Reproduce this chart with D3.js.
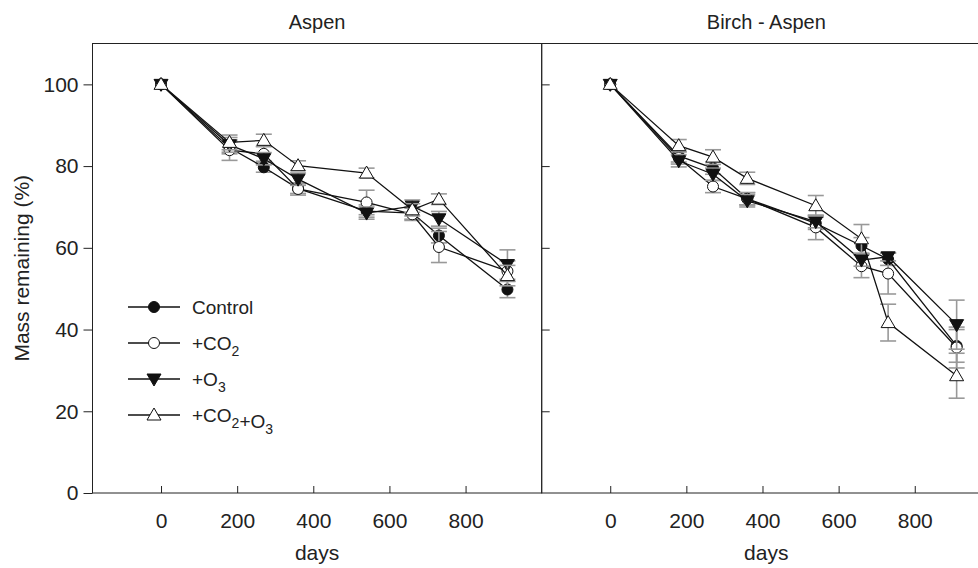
<!DOCTYPE html>
<html>
<head>
<meta charset="utf-8">
<script src="https://cdn.jsdelivr.net/npm/d3@7"></script>
<style>
  body { margin: 0; background: #fff; }
  text { font-family: "Liberation Sans", Arial, sans-serif; fill: #222; }
</style>
</head>
<body>
<div id="chart"></div>
<script>
// days of each harvest
var days = [0, 180, 270, 360, 540, 660, 730, 910];

// Aspen panel
var aspenControl = [100, 84.5, 79.7, 74.5, 69.0, 68.5, 63.0, 49.8];
var aspenCO2     = [100, 83.9, 83.0, 74.4, 71.1, 68.2, 60.2, 54.3];
var aspenO3      = [100, 85.2, 81.8, 76.8, 68.5, 70.2, 67.1, 55.9];
var aspenCO2O3   = [100, 85.8, 86.3, 80.1, 78.3, 69.3, 71.9, 53.2];
var aspenControlErr = [0, 1.5, 1.2, 1.2, 1.5, 1.5, 1.8, 2.0];
var aspenCO2Err     = [0, 2.5, 1.8, 1.5, 3.0, 1.5, 3.8, 2.5];
var aspenO3Err      = [0, 1.8, 1.5, 1.5, 1.5, 1.5, 1.8, 3.6];
var aspenCO2O3Err   = [0, 1.8, 1.5, 1.2, 1.2, 1.5, 1.3, 2.5];

// Birch - Aspen panel
var birchControl = [100, 82.5, 79.5, 72.0, 66.0, 60.5, 57.2, 36.0];
var birchCO2     = [100, 82.0, 75.0, 72.0, 65.0, 55.5, 53.7, 35.6];
var birchO3      = [100, 81.3, 78.0, 71.5, 66.4, 57.0, 57.8, 41.2];
var birchCO2O3   = [100, 85.0, 82.2, 77.0, 70.3, 62.2, 41.7, 28.7];
var birchControlErr = [0, 1.5, 1.5, 1.5, 1.5, 2.0, 1.5, 4.0];
var birchCO2Err     = [0, 1.5, 1.5, 1.5, 3.0, 2.8, 5.0, 5.0];
var birchO3Err      = [0, 1.5, 1.5, 1.5, 1.5, 1.5, 1.0, 6.0];
var birchCO2O3Err   = [0, 1.5, 1.8, 1.5, 2.5, 3.5, 4.5, 5.5];

var panelTitles = ["Aspen", "Birch - Aspen"];
var seriesNames = ["Control", "+CO2", "+O3", "+CO2+O3"];
var xTicks = [0, 200, 400, 600, 800];
var yTicks = [0, 20, 40, 60, 80, 100];

var svgWidth = 978;
var svgHeight = 568;
var margin = { top: 43.5, left: 92.5 };
var panelWidth = 449.2;
var panelHeight = 449.5;

var svg = d3.select("#chart").append("svg")
    .attr("width", svgWidth)
    .attr("height", svgHeight);

var xScale = d3.scaleLinear().domain([-180, 1000]).range([0, panelWidth]);
var yScale = d3.scaleLinear().domain([0, 110]).range([panelHeight, 0]);

var panels = [
    { series: [aspenControl, aspenCO2, aspenO3, aspenCO2O3],
      errs: [aspenControlErr, aspenCO2Err, aspenO3Err, aspenCO2O3Err] },
    { series: [birchControl, birchCO2, birchO3, birchCO2O3],
      errs: [birchControlErr, birchCO2Err, birchO3Err, birchCO2O3Err] }
];

// marker drawing: 0 filled circle, 1 open circle, 2 filled down triangle, 3 open up triangle
function drawMarker(g, type, x, y) {
    if (type < 2) {
        g.append("circle")
            .attr("cx", x).attr("cy", y).attr("r", 5.5)
            .attr("fill", type === 0 ? "#111" : "#fff")
            .attr("stroke", "#111").attr("stroke-width", 1);
    } else if (type === 2) {
        g.append("path")
            .attr("d", `M${x - 7},${y - 5}L${x + 7},${y - 5}L${x},${y + 7}Z`)
            .attr("fill", "#111").attr("stroke", "#111").attr("stroke-width", 1);
    } else {
        g.append("path")
            .attr("d", `M${x - 7},${y + 5}L${x + 7},${y + 5}L${x},${y - 7}Z`)
            .attr("fill", "#fff").attr("stroke", "#111").attr("stroke-width", 1);
    }
}

var line = d3.line()
    .x(d => xScale(d[0]))
    .y(d => yScale(d[1]));

panels.forEach(function(panel, p) {
    var g = svg.append("g")
        .attr("transform", `translate(${margin.left + p * panelWidth}, ${margin.top})`);

    // x axis (ticks pointing inward)
    var bottomAxis = d3.axisBottom(xScale)
        .tickValues(xTicks)
        .tickSizeInner(-7)
        .tickSizeOuter(0)
        .tickPadding(20);
    var xAxis = g.append("g")
        .attr("transform", `translate(0, ${panelHeight})`)
        .call(bottomAxis);
    xAxis.select(".domain").remove();
    xAxis.selectAll("text").attr("font-size", "21px").attr("fill", "#222");
    xAxis.selectAll("line").attr("stroke", "#222");

    if (p === 0) {
        var leftAxis = d3.axisLeft(yScale)
            .tickValues(yTicks)
            .tickSizeInner(9)
            .tickSizeOuter(0)
            .tickPadding(5);
        var yAxis = g.append("g").call(leftAxis);
        yAxis.select(".domain").remove();
        yAxis.selectAll("text").attr("font-size", "21px").attr("fill", "#222");
        yAxis.selectAll("line").attr("stroke", "#222");
    } else {
        var innerAxis = d3.axisRight(yScale)
            .tickValues(yTicks.slice(1))
            .tickSizeInner(8)
            .tickSizeOuter(0)
            .tickFormat("");
        var yAxis2 = g.append("g").call(innerAxis);
        yAxis2.select(".domain").remove();
        yAxis2.selectAll("line").attr("stroke", "#222");
    }

    // frame
    g.append("rect")
        .attr("x", 0).attr("y", 0)
        .attr("width", panelWidth).attr("height", panelHeight)
        .attr("fill", "none").attr("stroke", "#222").attr("stroke-width", 1);

    // title
    g.append("text")
        .attr("x", panelWidth / 2).attr("y", -15)
        .attr("text-anchor", "middle")
        .attr("font-size", "20px")
        .text(panelTitles[p]);

    // x label
    g.append("text")
        .attr("x", panelWidth / 2).attr("y", panelHeight + 67)
        .attr("text-anchor", "middle")
        .attr("font-size", "21px")
        .text("days");

    // series: error bars, line, then symbols
    panel.series.forEach(function(vals, s) {
        var pts = days.map((d, i) => [d, vals[i], panel.errs[s][i]]);

        var eb = g.append("g").attr("stroke", "#999").attr("stroke-width", 1.6);
        pts.forEach(function(d) {
            if (d[2] <= 0) return;
            var x = xScale(d[0]);
            var y1 = yScale(d[1] - d[2]);
            var y2 = yScale(d[1] + d[2]);
            eb.append("line").attr("x1", x).attr("x2", x).attr("y1", y1).attr("y2", y2);
            eb.append("line").attr("x1", x - 8).attr("x2", x + 8).attr("y1", y1).attr("y2", y1);
            eb.append("line").attr("x1", x - 8).attr("x2", x + 8).attr("y1", y2).attr("y2", y2);
        });

        g.append("path")
            .datum(pts)
            .attr("d", line)
            .attr("fill", "none")
            .attr("stroke", "#111")
            .attr("stroke-width", 1.3);

        pts.forEach(function(d) {
            drawMarker(g, s, xScale(d[0]), yScale(d[1]));
        });
    });
});

// y axis label
svg.append("text")
    .attr("transform", `translate(29, ${margin.top + panelHeight / 2}) rotate(-90)`)
    .attr("text-anchor", "middle")
    .attr("font-size", "21px")
    .text("Mass remaining (%)");

// legend in the Aspen panel
var legend = svg.append("g");
var legendY = [307, 343, 379, 415];
seriesNames.forEach(function(name, s) {
    var y = legendY[s];
    legend.append("line")
        .attr("x1", 128).attr("x2", 180).attr("y1", y).attr("y2", y)
        .attr("stroke", "#111").attr("stroke-width", 1.3);
    drawMarker(legend, s, 154, y);
    var t = legend.append("text")
        .attr("x", 192).attr("y", y + 7)
        .attr("font-size", "19px");
    // split into plain text and subscripts
    var parts = name.match(/[^0-9]+|[0-9]+/g);
    parts.forEach(function(part) {
        if (/^[0-9]+$/.test(part)) {
            t.append("tspan").attr("dy", 6).attr("font-size", "14px").text(part);
            t.append("tspan").attr("dy", -6).text("");
        } else {
            t.append("tspan").text(part);
        }
    });
});
</script>
</body>
</html>
